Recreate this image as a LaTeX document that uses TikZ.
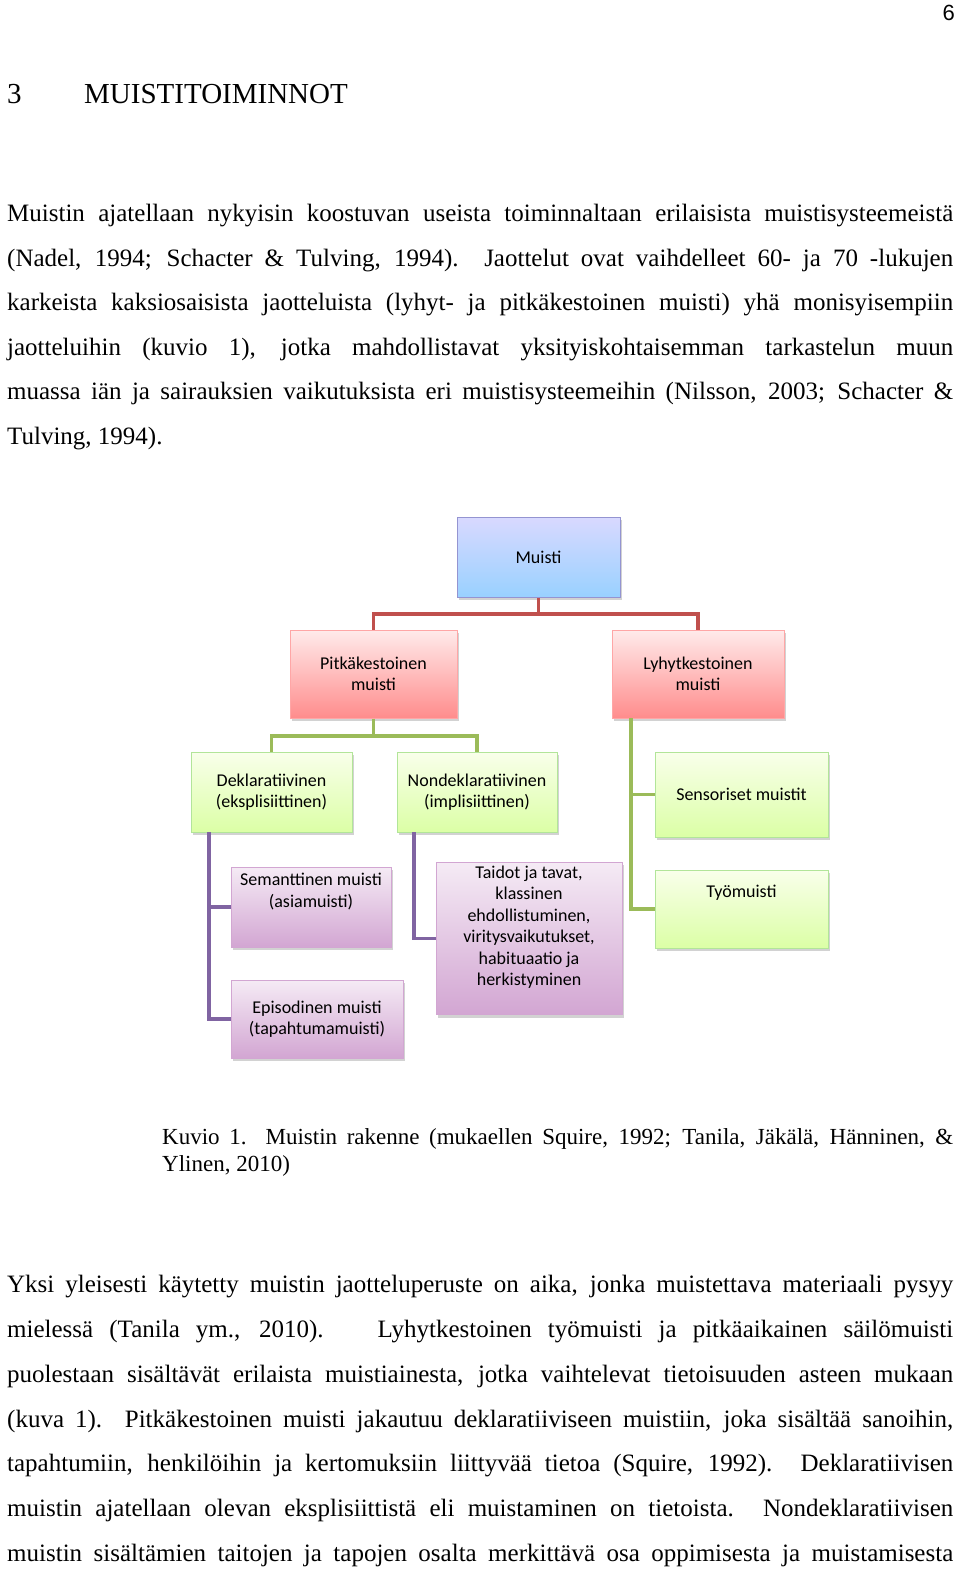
\documentclass[tikz,border=0pt]{standalone}
\usepackage{fontspec}
\setmainfont{Liberation Serif}
\newfontfamily\calfont{Carlito}
\newfontfamily\arsfont{Liberation Sans}
\usetikzlibrary{shadows}
\definecolor{lred}{HTML}{C0504D}
\definecolor{lgreen}{HTML}{9BBB59}
\definecolor{lviolet}{HTML}{8064A2}
\begin{document}
\begin{tikzpicture}[x=1pt,y=-1pt,
 box/.style={draw,line width=1pt,rectangle,align=center,font=\calfont\fontsize{18}{21.5}\selectfont,drop shadow={shadow xshift=2pt,shadow yshift=-3pt,opacity=0.35}},
 bl/.style={box,draw=blue!40!gray!60,top color=blue!15,bottom color=blue!45!cyan!40},
 rd/.style={box,draw=red!35,top color=red!8,bottom color=red!45},
 gr/.style={box,draw=green!50!olive!40,top color=green!30!yellow!8,bottom color=green!40!yellow!35},
 pu/.style={box,draw=violet!35,top color=violet!8,bottom color=violet!35},
 rl/.style={draw=lred,line width=3.5pt},
 gl/.style={draw=lgreen,line width=3.5pt},
 pl/.style={draw=lviolet,line width=3.5pt},
 body/.style={anchor=west,inner sep=0pt,font=\fontsize{25}{28}\selectfont}]
\useasboundingbox[fill=white] (0,0) rectangle (960,1571);
\node[anchor=east,inner sep=0pt,font=\arsfont\fontsize{22}{26}\selectfont] (pg) at (955,13) {6};
\node[body,font=\fontsize{29}{32}\selectfont] (h1) at (7,94) {3};
\node[body,font=\fontsize{29}{32}\selectfont] (h2) at (84,94) {MUISTITOIMINNOT};
\node[body] (p1) at (7,216) {\makebox[946pt][s]{Muistin ajatellaan nykyisin koostuvan useista toiminnaltaan erilaisista muistisysteemeistä}};
\node[body] (p2) at (7,261) {\makebox[946pt][s]{(Nadel, 1994; Schacter \& Tulving, 1994). Jaottelut ovat vaihdelleet 60- ja 70 -lukujen}};
\node[body] (p3) at (7,305) {\makebox[946pt][s]{karkeista kaksiosaisista jaotteluista (lyhyt- ja pitkäkestoinen muisti) yhä monisyisempiin}};
\node[body] (p4) at (7,350) {\makebox[946pt][s]{jaotteluihin (kuvio 1), jotka mahdollistavat yksityiskohtaisemman tarkastelun muun}};
\node[body] (p5) at (7,394) {\makebox[946pt][s]{muassa iän ja sairauksien vaikutuksista eri muistisysteemeihin (Nilsson, 2003; Schacter \&}};
\node[body] (p6) at (7,439) {Tulving, 1994).};
% diagram
\node[bl,minimum width=163pt,minimum height=80pt] (mu) at (538.5,557) {Muisti};
\node[rd,minimum width=167pt,minimum height=88pt] (pk) at (373.5,674) {Pitkäkestoinen\\muisti};
\node[rd,minimum width=172pt,minimum height=88pt] (ly) at (698,674) {Lyhytkestoinen\\muisti};
\node[gr,minimum width=161pt,minimum height=80pt] (de) at (271.5,792) {Deklaratiivinen\\(eksplisiittinen)};
\node[gr,minimum width=160pt,minimum height=80pt] (nd) at (477,792) {Nondeklaratiivinen\\(implisiittinen)};
\node[gr,minimum width=173pt,minimum height=85pt] (se) at (741.5,794.5) {Sensoriset muistit};
\node[pu,minimum width=160pt,minimum height=80pt] (sm) at (311,907) {Semanttinen muisti\\(asiamuisti)\\[12pt]};
\node[pu,minimum width=186pt,minimum height=143pt] (ta) at (529,938.5) {Taidot ja tavat,\\klassinen\\ehdollistuminen,\\viritysvaikutukset,\\habituaatio ja\\herkistyminen\\[4pt]};
\node[gr,minimum width=173pt,minimum height=78pt] (ty) at (741.5,909) {Työmuisti\\[14pt]};
\node[pu,minimum width=172pt,minimum height=78pt] (ep) at (317,1019) {Episodinen muisti\\(tapahtumamuisti)};
% connectors
\coordinate (r1) at (538.5,614);
\coordinate (g1) at (373.5,736);
\coordinate (l1) at (631,718);
\coordinate (l2) at (631,790);
\coordinate (d1) at (209,832);
\coordinate (d2) at (209,900);
\coordinate (n1) at (414,832);
\draw[rl] (mu.south) -- (r1) -| (pk.north);
\draw[rl] (r1) -| (ly.north);
\draw[gl] (pk.south) -- (g1) -| (de.north);
\draw[gl] (g1) -| (nd.north);
\draw[gl] (l1) |- (se.west);
\draw[gl] (l2) |- (ty.west);
\draw[pl] (d1) |- (sm.west);
\draw[pl] (d2) |- (ep.west);
\draw[pl] (n1) |- (ta.west);
\node[anchor=west,inner sep=0pt,font=\fontsize{23}{27}\selectfont] (cap) at (162,1139) {\makebox[791pt][s]{Kuvio 1. Muistin rakenne (mukaellen Squire, 1992; Tanila, Jäkälä, Hänninen, \&}};
\node[anchor=west,inner sep=0pt,font=\fontsize{23}{27}\selectfont] (cap2) at (162,1166) {Ylinen, 2010)};
\node[body] (q1) at (7,1287) {\makebox[946pt][s]{Yksi yleisesti käytetty muistin jaotteluperuste on aika, jonka muistettava materiaali pysyy}};
\node[body] (q2) at (7,1332) {\makebox[946pt][s]{mielessä (Tanila ym., 2010). \ Lyhytkestoinen työmuisti ja pitkäaikainen säilömuisti}};
\node[body] (q3) at (7,1376) {\makebox[946pt][s]{puolestaan sisältävät erilaista muistiainesta, jotka vaihtelevat tietoisuuden asteen mukaan}};
\node[body] (q4) at (7,1421) {\makebox[946pt][s]{(kuva 1). Pitkäkestoinen muisti jakautuu deklaratiiviseen muistiin, joka sisältää sanoihin,}};
\node[body] (q5) at (7,1466) {\makebox[946pt][s]{tapahtumiin, henkilöihin ja kertomuksiin liittyvää tietoa (Squire, 1992). Deklaratiivisen}};
\node[body] (q6) at (7,1510) {\makebox[946pt][s]{muistin ajatellaan olevan eksplisiittistä eli muistaminen on tietoista. Nondeklaratiivisen}};
\node[body] (q7) at (7,1555) {\makebox[946pt][s]{muistin sisältämien taitojen ja tapojen osalta merkittävä osa oppimisesta ja muistamisesta}};
\end{tikzpicture}
\end{document}
